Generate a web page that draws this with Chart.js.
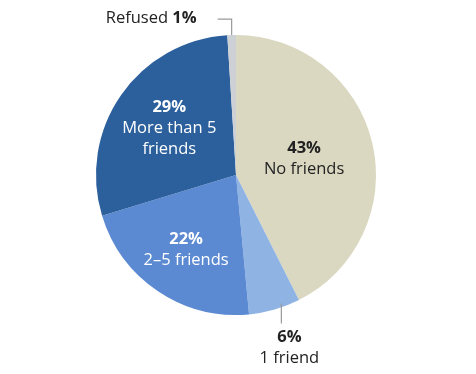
<!DOCTYPE html>
<html>
<head>
<meta charset="utf-8">
<script src="https://cdn.jsdelivr.net/npm/chart.js@4"></script>
<style>
  body { margin: 0; background: #fff; }
</style>
</head>
<body>
<canvas id="pie" width="476" height="374"></canvas>
<script>
var categorias = ['No friends', '1 friend', '2–5 friends', 'More than 5 friends', 'Refused'];
var valores = [43, 6, 22, 29, 1];
var colores = ['#dad8c1', '#8fb4e4', '#5c8ad2', '#2c609d', '#cdd0d5'];
// lineas del texto de cada etiqueta (sin el porcentaje)
var etiquetas = [['No friends'], ['1 friend'], ['2–5 friends'], ['More than 5', 'friends'], ['Refused']];

var fuente = '"Open Sans", sans-serif';

var etiquetasPlugin = {
    id: 'etiquetas',
    afterDraw: function (chart) {
        var c = chart.ctx;
        var arcs = chart.getDatasetMeta(0).data;
        c.save();
        c.textAlign = 'center';
        c.textBaseline = 'middle';

        // etiquetas dentro de las porciones
        var internas = [[0, 0.5, 0], [2, 0.64, 0], [3, 0.58, 0]];
        internas.forEach(function (d) {
            var i = d[0];
            var a = arcs[i];
            var ang = (a.startAngle + a.endAngle) / 2;
            var r = a.outerRadius * d[1];
            var x = a.x + Math.cos(ang) * r;
            var y = a.y + Math.sin(ang) * r;
            var lineas = etiquetas[i];
            var alto = 21;
            var y0 = y - (lineas.length * alto) / 2;
            c.fillStyle = i === 0 ? '#222' : '#fff';
            c.font = 'bold 16.5px ' + fuente;
            c.fillText(valores[i] + '%', x, y0);
            c.font = '16.5px ' + fuente;
            lineas.forEach(function (t, k) {
                c.fillText(t, x, y0 + alto * (k + 1));
            });
        });

        c.strokeStyle = '#999';
        c.lineWidth = 1.2;

        // 1 friend (abajo)
        var a1 = arcs[1];
        var ang1 = (a1.startAngle + a1.endAngle) / 2 - 0.05;
        var lx = a1.x + Math.cos(ang1) * a1.outerRadius;
        var ly = a1.y + Math.sin(ang1) * a1.outerRadius;
        c.beginPath();
        c.moveTo(lx, ly - 4);
        c.lineTo(lx, ly + 16);
        c.stroke();
        c.fillStyle = '#222';
        c.font = 'bold 16.5px ' + fuente;
        c.fillText(valores[1] + '%', lx + 8, ly + 30);
        c.font = '16.5px ' + fuente;
        c.fillText(etiquetas[1][0], lx + 8, ly + 51);

        // Refused (arriba)
        var a4 = arcs[4];
        var ang4 = (a4.startAngle + a4.endAngle) / 2;
        var rx = a4.x + Math.cos(ang4) * a4.outerRadius;
        var ry = a4.y + Math.sin(ang4) * a4.outerRadius;
        c.beginPath();
        c.moveTo(rx, ry);
        c.lineTo(rx, ry - 16);
        c.lineTo(rx - 14, ry - 16);
        c.stroke();
        c.textAlign = 'right';
        c.font = 'bold 16.5px ' + fuente;
        var pct = valores[4] + '%';
        var xr = rx - 35;
        c.fillText(pct, xr, ry - 17);
        var w = c.measureText(pct).width;
        c.font = '16.5px ' + fuente;
        c.fillText(etiquetas[4][0] + ' ', xr - w, ry - 17);
        c.restore();
    }
};

new Chart(document.getElementById('pie').getContext('2d'), {
    type: 'pie',
    data: {
        labels: categorias,
        datasets: [{
            data: valores,
            backgroundColor: colores,
            borderWidth: 0
        }]
    },
    options: {
        responsive: false,
        animation: false,
        layout: { padding: { top: 35, bottom: 59, left: 96, right: 100 } },
        plugins: {
            legend: { display: false },
            tooltip: { enabled: false }
        }
    },
    plugins: [etiquetasPlugin]
});
</script>
</body>
</html>
